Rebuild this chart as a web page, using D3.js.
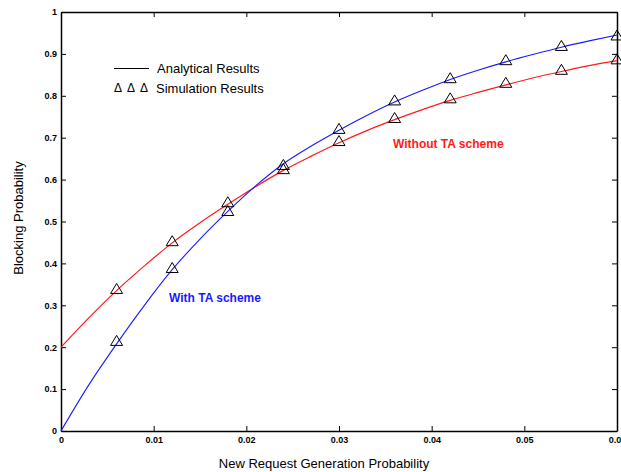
<!DOCTYPE html>
<html>
<head>
<meta charset="utf-8">
<script src="https://cdn.jsdelivr.net/npm/d3@7"></script>
<style>
  body { margin: 0; background: #fff; }
  svg { display: block; font-family: "Liberation Sans", Arial, sans-serif; }
  .tick text { font-weight: bold; font-size: 9px; }
</style>
</head>
<body>
<div id="chart"></div>
<script>
// analytical curves, every 0.003
const curveX = [0, 0.003, 0.006, 0.009, 0.012, 0.015, 0.018, 0.021, 0.024, 0.027, 0.030,
  0.033, 0.036, 0.039, 0.042, 0.045, 0.048, 0.051, 0.054, 0.057, 0.060]
const withoutTA = [0.200, 0.270, 0.335, 0.394, 0.449, 0.497, 0.541, 0.583, 0.622, 0.656, 0.688,
  0.717, 0.743, 0.767, 0.789, 0.808, 0.826, 0.843, 0.858, 0.872, 0.884]
const withTA = [0, 0.110, 0.208, 0.300, 0.385, 0.458, 0.524, 0.585, 0.638, 0.680, 0.718,
  0.753, 0.785, 0.813, 0.839, 0.861, 0.881, 0.899, 0.916, 0.931, 0.945]

// simulation points
const simX = [0.006, 0.012, 0.018, 0.024, 0.030, 0.036, 0.042, 0.048, 0.054, 0.060]
const simWithoutTA = [0.339, 0.453, 0.546, 0.625, 0.692, 0.747, 0.794, 0.831, 0.862, 0.887]
const simWithTA = [0.215, 0.389, 0.525, 0.635, 0.721, 0.789, 0.842, 0.885, 0.919, 0.944]

const xTicks = [0, 0.01, 0.02, 0.03, 0.04, 0.05, 0.06]
const yTicks = [0, 0.1, 0.2, 0.3, 0.4, 0.5, 0.6, 0.7, 0.8, 0.9, 1]

const width = 621, height = 472
const margin = { top: 12, right: 4, bottom: 41, left: 61 }

const svg = d3.select('#chart').append('svg')
  .attr('width', width)
  .attr('height', height)

const x = d3.scaleLinear().domain([0, 0.06]).range([margin.left, width - margin.right])
const y = d3.scaleLinear().domain([0, 1]).range([height - margin.bottom, margin.top])

const fmt = d => d === 0 ? '0' : d === 1 ? '1' : String(+d.toFixed(2))

// axes, ticks pointing inward on all four sides
svg.append('g')
  .attr('transform', `translate(0,${y(0)})`)
  .call(d3.axisBottom(x).tickValues(xTicks).tickFormat(fmt).tickSizeInner(-5).tickSizeOuter(0).tickPadding(6))
svg.append('g')
  .attr('transform', `translate(0,${y(1)})`)
  .call(d3.axisTop(x).tickValues(xTicks).tickFormat('').tickSizeInner(-5).tickSizeOuter(0))
svg.append('g')
  .attr('transform', `translate(${x(0)},0)`)
  .call(d3.axisLeft(y).tickValues(yTicks).tickFormat(fmt).tickSizeInner(-5).tickSizeOuter(0).tickPadding(4))
svg.append('g')
  .attr('transform', `translate(${x(0.06)},0)`)
  .call(d3.axisRight(y).tickValues(yTicks).tickFormat('').tickSizeInner(-5).tickSizeOuter(0))

svg.selectAll('.domain').attr('stroke', '#000').attr('stroke-width', 1.5)
svg.selectAll('.tick line').attr('stroke', '#000').attr('stroke-width', 1)
svg.selectAll('.tick text').attr('fill', '#000')

// analytical curves
const line = d3.line()
  .x(d => x(d[0]))
  .y(d => y(d[1]))
  .curve(d3.curveMonotoneX)

svg.append('path')
  .datum(d3.zip(curveX, withoutTA))
  .attr('fill', 'none')
  .attr('stroke', '#ff1a1a')
  .attr('stroke-width', 1.2)
  .attr('d', line)

svg.append('path')
  .datum(d3.zip(curveX, withTA))
  .attr('fill', 'none')
  .attr('stroke', '#1a1aff')
  .attr('stroke-width', 1.1)
  .attr('d', line)

// triangle markers
const tri = (cx, cy) => `M${cx - 6},${cy + 4.5}L${cx + 6},${cy + 4.5}L${cx},${cy - 5.5}Z`
const simPoints = d3.zip(simX, simWithoutTA).concat(d3.zip(simX, simWithTA))

svg.selectAll('.sim')
  .data(simPoints)
  .join('path')
  .attr('class', 'sim')
  .attr('fill', 'none')
  .attr('stroke', '#000')
  .attr('stroke-width', 1)
  .attr('d', d => tri(x(d[0]), y(d[1])))

// legend
svg.append('line')
  .attr('x1', 114).attr('x2', 149)
  .attr('y1', 68.5).attr('y2', 68.5)
  .attr('stroke', '#000').attr('stroke-width', 1.2)
svg.append('text')
  .attr('x', 157).attr('y', 73)
  .attr('font-size', 13)
  .text('Analytical Results')
svg.selectAll('.delta')
  .data([114, 127, 140])
  .join('text')
  .attr('class', 'delta')
  .attr('x', d => d).attr('y', 92)
  .attr('font-size', 12)
  .text('Δ')
svg.append('text')
  .attr('x', 156).attr('y', 92.5)
  .attr('font-size', 13)
  .text('Simulation Results')

// curve annotations
svg.append('text')
  .attr('x', 393).attr('y', 148)
  .attr('font-size', 12).attr('font-weight', 'bold')
  .attr('fill', '#ff1a1a')
  .text('Without TA scheme')
svg.append('text')
  .attr('x', 169).attr('y', 302)
  .attr('font-size', 12).attr('font-weight', 'bold')
  .attr('fill', '#1a1aff')
  .text('With TA scheme')

// axis titles
svg.append('text')
  .attr('x', 324).attr('y', 468)
  .attr('text-anchor', 'middle')
  .attr('font-size', 13)
  .text('New Request Generation Probability')
svg.append('text')
  .attr('transform', 'translate(23,218) rotate(-90)')
  .attr('text-anchor', 'middle')
  .attr('font-size', 13)
  .text('Blocking Probability')
</script>
</body>
</html>
